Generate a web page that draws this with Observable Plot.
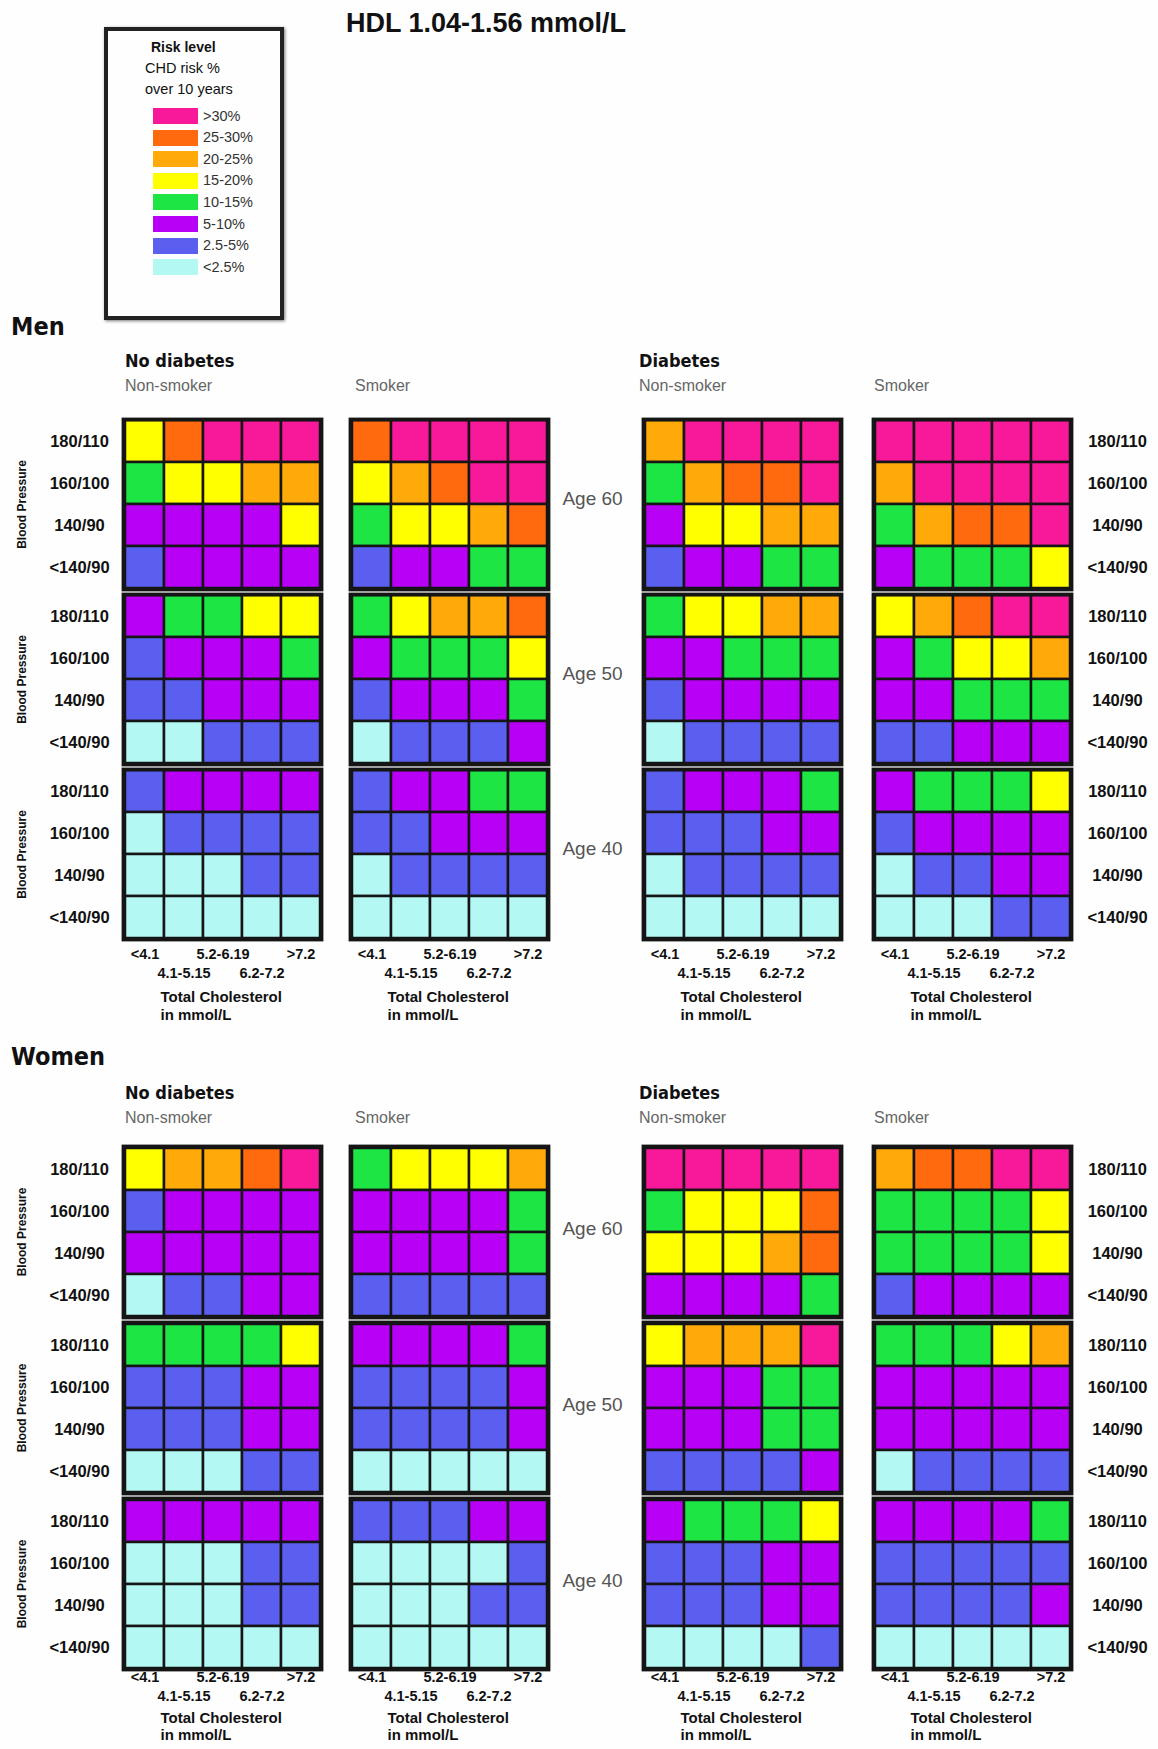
<!DOCTYPE html>
<html>
<head>
<meta charset="utf-8">
<script src="https://cdn.jsdelivr.net/npm/d3@7"></script>
<script src="https://cdn.jsdelivr.net/npm/@observablehq/plot@0.6"></script>
<style>
  html, body { margin: 0; padding: 0; background: #fff; }
  #page { position: relative; width: 1158px; height: 1749px; background: #fefefe; font-family: "Liberation Sans", Arial, sans-serif; color: #111; overflow: hidden; }
  .abs { position: absolute; white-space: nowrap; }
  .cond { font-family: "DejaVu Sans Condensed", "DejaVu Sans", sans-serif; font-stretch: condensed; font-weight: bold; }
  .gray { color: #666; }
</style>
</head>
<body>
<div id="page"></div>
<script>
// ---------- data ----------
const riskLevels = ["<2.5%", "2.5-5%", "5-10%", "10-15%", "15-20%", "20-25%", "25-30%", ">30%"];
const riskColors = ["#b4f8f3", "#5b5ff0", "#b800f6", "#1de644", "#ffff00", "#ffaa08", "#ff6a0e", "#f8199a"];
const bpLabels = ["180/110", "160/100", "140/90", "<140/90"];
const cholLabels = ["<4.1", "4.1-5.15", "5.2-6.19", "6.2-7.2", ">7.2"];
const ageLabels = ["Age 60", "Age 50", "Age 40"];
const sexes = ["Men", "Women"];
const diabetesLabels = ["No diabetes", "Diabetes"];
const smokerLabels = ["Non-smoker", "Smoker"];

// risk codes (index into riskLevels); rows: Age 60 (4 BP rows), Age 50, Age 40; columns: cholesterol
const menNoDiabNonSmoker = [
  [4,6,7,7,7],[3,4,4,5,5],[2,2,2,2,4],[1,2,2,2,2],
  [2,3,3,4,4],[1,2,2,2,3],[1,1,2,2,2],[0,0,1,1,1],
  [1,2,2,2,2],[0,1,1,1,1],[0,0,0,1,1],[0,0,0,0,0]];
const menNoDiabSmoker = [
  [6,7,7,7,7],[4,5,6,7,7],[3,4,4,5,6],[1,2,2,3,3],
  [3,4,5,5,6],[2,3,3,3,4],[1,2,2,2,3],[0,1,1,1,2],
  [1,2,2,3,3],[1,1,2,2,2],[0,1,1,1,1],[0,0,0,0,0]];
const menDiabNonSmoker = [
  [5,7,7,7,7],[3,5,6,6,7],[2,4,4,5,5],[1,2,2,3,3],
  [3,4,4,5,5],[2,2,3,3,3],[1,2,2,2,2],[0,1,1,1,1],
  [1,2,2,2,3],[1,1,1,2,2],[0,1,1,1,1],[0,0,0,0,0]];
const menDiabSmoker = [
  [7,7,7,7,7],[5,7,7,7,7],[3,5,6,6,7],[2,3,3,3,4],
  [4,5,6,7,7],[2,3,4,4,5],[2,2,3,3,3],[1,1,2,2,2],
  [2,3,3,3,4],[1,2,2,2,2],[0,1,1,2,2],[0,0,0,1,1]];
const womenNoDiabNonSmoker = [
  [4,5,5,6,7],[1,2,2,2,2],[2,2,2,2,2],[0,1,1,2,2],
  [3,3,3,3,4],[1,1,1,2,2],[1,1,1,2,2],[0,0,0,1,1],
  [2,2,2,2,2],[0,0,0,1,1],[0,0,0,1,1],[0,0,0,0,0]];
const womenNoDiabSmoker = [
  [3,4,4,4,5],[2,2,2,2,3],[2,2,2,2,3],[1,1,1,1,1],
  [2,2,2,2,3],[1,1,1,1,2],[1,1,1,1,2],[0,0,0,0,0],
  [1,1,1,2,2],[0,0,0,0,1],[0,0,0,1,1],[0,0,0,0,0]];
const womenDiabNonSmoker = [
  [7,7,7,7,7],[3,4,4,4,6],[4,4,4,5,6],[2,2,2,2,3],
  [4,5,5,5,7],[2,2,2,3,3],[2,2,2,3,3],[1,1,1,1,2],
  [2,3,3,3,4],[1,1,1,2,2],[1,1,1,2,2],[0,0,0,0,1]];
const womenDiabSmoker = [
  [5,6,6,7,7],[3,3,3,3,4],[3,3,3,3,4],[1,2,2,2,2],
  [3,3,3,4,5],[2,2,2,2,2],[2,2,2,2,2],[0,1,1,1,1],
  [2,2,2,2,3],[1,1,1,1,1],[1,1,1,1,2],[0,0,0,0,0]];

const grids = {
  Men: [menNoDiabNonSmoker, menNoDiabSmoker, menDiabNonSmoker, menDiabSmoker],
  Women: [womenNoDiabNonSmoker, womenNoDiabSmoker, womenDiabNonSmoker, womenDiabSmoker]
};

// ---------- layout ----------
const page = document.getElementById("page");
const colX = [123, 350, 643, 873];
const headX = [125, 355, 639, 874];
const panelW = 198;
const layout = {
  Men: {tops: [419, 594, 769], h: 170, head: 316, sub: 352, sub2: 385, ageDy: -6, xDy: [19, 38, 62, 80], mB: 90},
  Women: {tops: [1146, 1322, 1498], h: 171, head: 1046, sub: 1084, sub2: 1117, ageDy: -3, xDy: [12, 31, 53, 70], mB: 80}
};

function label(text, x, cy, fs, cls = "", extra = {}) {
  const d = document.createElement("div");
  d.className = "abs " + cls;
  d.textContent = text;
  const lh = Math.round(fs * 1.2);
  d.style.left = x + "px";
  d.style.top = (cy - lh / 2) + "px";
  d.style.fontSize = fs + "px";
  d.style.lineHeight = lh + "px";
  Object.assign(d.style, extra);
  page.appendChild(d);
  return d;
}

// title
label("HDL 1.04-1.56 mmol/L", 346, 23, 27, "", {fontWeight: "bold"});

// legend
const box = document.createElement("div");
box.className = "abs";
Object.assign(box.style, {left: "104px", top: "27px", width: "180px", height: "293px", border: "4px solid #222", boxSizing: "border-box", boxShadow: "1px 1px 3px #777"});
page.appendChild(box);
label("Risk level", 151, 47, 14, "", {fontWeight: "bold"});
label("CHD risk %", 145, 68, 14.5);
label("over 10 years", 145, 89, 14.5);
riskLevels.slice().reverse().forEach((lv, i) => {
  const cy = 116 + i * 21.6;
  const sw = document.createElement("div");
  sw.className = "abs";
  Object.assign(sw.style, {left: "153px", top: (cy - 8) + "px", width: "45px", height: "16px", background: riskColors[riskLevels.indexOf(lv)]});
  page.appendChild(sw);
  label(lv, 203, cy, 14.5, "", {color: "#333"});
});

// panels
function panel(sex, g, a) {
  const codes = grids[sex][g].slice(a * 4, a * 4 + 4);
  const data = [];
  codes.forEach((row, r) => row.forEach((c, k) => data.push({bp: bpLabels[r], chol: cholLabels[k], risk: riskLevels[c]})));
  const L = layout[sex];
  const isLeft = g === 0, isRight = g === 3, isAge = g === 1, isBottom = a === 2;
  const mL = isLeft ? 123 : 4, mR = isRight ? 87 : (isAge ? 95 : 4), mT = 4, mB = isBottom ? L.mB : 4;
  const marks = [
    Plot.cell(data, {x: "chol", y: "bp", fill: "risk", stroke: "#151515", strokeWidth: 2.5, inset: 0}),
    Plot.frame({stroke: "#151515", strokeWidth: 3.8})
  ];
  const tick = {fontWeight: "bold", fontSize: 16.5, fill: "#111"};
  if (isLeft) {
    marks.push(Plot.text(bpLabels, {y: d => d, text: d => d, frameAnchor: "left", dx: -44, textAnchor: "middle", ...tick}));
    marks.push(Plot.text(["Blood Pressure"], {text: d => d, frameAnchor: "left", dx: -101, rotate: -90, textAnchor: "middle", fontWeight: "bold", fontSize: 12, fill: "#111"}));
  }
  if (isRight) {
    marks.push(Plot.text(bpLabels, {y: d => d, text: d => d, frameAnchor: "right", dx: 46, textAnchor: "middle", ...tick}));
  }
  if (isAge) {
    marks.push(Plot.text([ageLabels[a]], {text: d => d, frameAnchor: "right", dx: 44, dy: L.ageDy, textAnchor: "middle", fontSize: 19, fill: "#555"}));
  }
  if (isBottom) {
    const xl = {fontWeight: "bold", fontSize: 14.5, fill: "#111"};
    const [d1, d2, d3, d4] = L.xDy;
    marks.push(Plot.text(cholLabels.filter((d, i) => i % 2 === 0), {x: d => d, text: d => d, frameAnchor: "bottom", dy: d1, textAnchor: "middle", ...xl}));
    marks.push(Plot.text(cholLabels.filter((d, i) => i % 2 === 1), {x: d => d, text: d => d, frameAnchor: "bottom", dy: d2, textAnchor: "middle", ...xl}));
    marks.push(Plot.text(["Total Cholesterol"], {text: d => d, frameAnchor: "bottom-left", dx: 37, dy: d3, textAnchor: "start", ...xl, fontSize: 15}));
    marks.push(Plot.text(["in mmol/L"], {text: d => d, frameAnchor: "bottom-left", dx: 37, dy: d4, textAnchor: "start", ...xl, fontSize: 15}));
  }
  const chart = Plot.plot({
    width: mL + panelW + mR,
    height: mT + L.h + mB,
    marginLeft: mL, marginRight: mR, marginTop: mT, marginBottom: mB,
    x: {domain: cholLabels, axis: null, padding: 0},
    y: {domain: bpLabels, axis: null, padding: 0},
    color: {type: "ordinal", domain: riskLevels, range: riskColors},
    style: {background: "transparent", overflow: "visible", fontFamily: "'Liberation Sans', Arial, sans-serif"},
    marks
  });
  chart.style.position = "absolute";
  chart.style.left = (colX[g] - mL) + "px";
  chart.style.top = (L.tops[a] - mT) + "px";
  chart.style.maxWidth = "none";
  page.appendChild(chart);
}

sexes.forEach(sex => {
  const L = layout[sex];
  label(sex, 11, L.head + 11, 25, "cond");
  [0, 2].forEach((g, j) => label(diabetesLabels[j], headX[g], L.sub + 9, 18, "cond"));
  [0, 1, 2, 3].forEach(g => label(smokerLabels[g % 2], headX[g], L.sub2, 16, "gray"));
  for (let g = 0; g < 4; g++) for (let a = 0; a < 3; a++) panel(sex, g, a);
});
</script>
</body>
</html>
